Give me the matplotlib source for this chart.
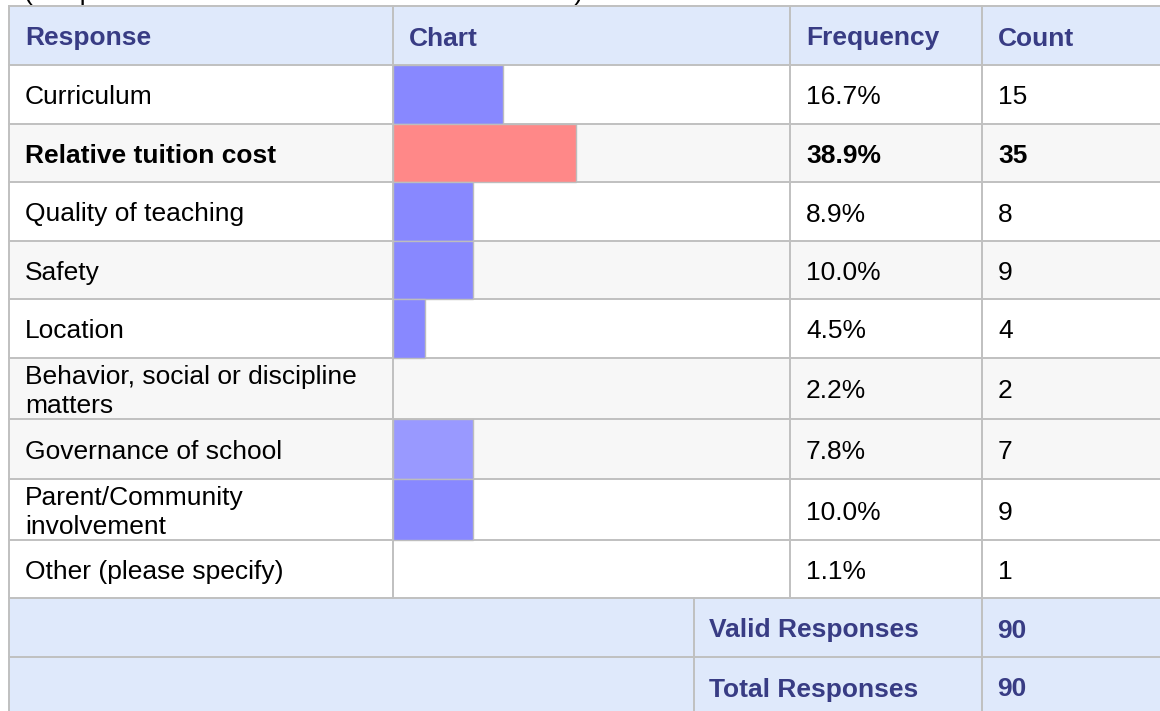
import matplotlib.pyplot as plt
from matplotlib.patches import Rectangle

# данные таблицы
responses = ["Curriculum", "Relative tuition cost", "Quality of teaching", "Safety",
             "Location", "Behavior, social or discipline\nmatters", "Governance of school",
             "Parent/Community\ninvolvement", "Other (please specify)"]
frequency = ["16.7%", "38.9%", "8.9%", "10.0%", "4.5%", "2.2%", "7.8%", "10.0%", "1.1%"]
counts = [15, 35, 8, 9, 4, 2, 7, 9, 1]
# длина полосы в столбце Chart, % ширины (как на картинке)
bar_pct = [27.7, 46.1, 20.2, 20.2, 8.1, 0, 20.2, 20.2, 0]
headers = ["Response", "Chart", "Frequency", "Count"]
footer_labels = ["Valid Responses", "Total Responses"]
footer_values = [90, 90]

plt.rcParams['font.family'] = ['Liberation Sans', 'DejaVu Sans']

W, H = 1160, 711
fig = plt.figure(figsize=(W / 100, H / 100), dpi=100)
ax = fig.add_axes([0, 0, 1, 1])
ax.set_xlim(0, W)
ax.set_ylim(H, 0)
ax.axis('off')

grid = '#c0c0c0'
head_bg = '#dfe9fb'
head_fg = '#383c84'
fs = 19
dy = 3  # сдвиг текста вниз

x_left, x_chart, x_freq, x_count, x_right = 9, 393, 790, 982, 1175
x_foot = 694
header_top, header_bot = 6, 65
row_edges = [65, 124, 182, 241, 299, 358, 419, 479, 540, 598]
foot_edges = [598, 657, 716]
shaded = [False, True, False, True, False, True, True, False, False]

# подпись сверху, обрезанная краем картинки
ax.text(24, 0, "(Respondents were allowed to select 3 choices)", fontsize=fs,
        va='baseline', ha='left', color='black')

# шапка
ax.add_patch(Rectangle((x_left, header_top), x_right - x_left, header_bot - header_top,
                       facecolor=head_bg, edgecolor='none', zorder=3))
for x, h in zip([25, 409, 806, 998], headers):
    ax.text(x, (header_top + header_bot) / 2 + dy, h, fontsize=fs, fontweight='bold',
            color=head_fg, va='center', ha='left', zorder=6)

# строки
for i in range(len(responses)):
    y0, y1 = row_edges[i], row_edges[i + 1]
    ax.add_patch(Rectangle((x_left, y0), x_right - x_left, y1 - y0,
                           facecolor='#f7f7f7' if shaded[i] else 'white', edgecolor='none'))
    yc = (y0 + y1) / 2 + dy
    bold = 'bold' if i == 1 else 'normal'
    ax.text(25, yc, responses[i], fontsize=fs, fontweight=bold, va='center', ha='left',
            linespacing=1.25)
    ax.text(806, yc, frequency[i], fontsize=fs, fontweight=bold, va='center', ha='left')
    ax.text(998, yc, str(counts[i]), fontsize=fs, fontweight=bold, va='center', ha='left')

# итоговые строки
for i in range(2):
    y0, y1 = foot_edges[i], foot_edges[i + 1]
    ax.add_patch(Rectangle((x_left, y0), x_right - x_left, y1 - y0,
                           facecolor=head_bg, edgecolor='none'))
    yc = (y0 + y0 + 59) / 2 + dy
    ax.text(709, yc, footer_labels[i], fontsize=fs, fontweight='bold', color=head_fg,
            va='center', ha='left')
    ax.text(997, yc, str(footer_values[i]), fontsize=fs, fontweight='bold', color=head_fg,
            va='center', ha='left')

# полосы в столбце Chart
cax = fig.add_axes([x_chart / W, 1 - row_edges[-1] / H,
                    (x_freq - x_chart) / W, (row_edges[-1] - row_edges[0]) / H])
cax.set_xlim(0, 100)
cax.set_ylim(row_edges[-1], row_edges[0])
cax.axis('off')
centers = [(row_edges[i] + row_edges[i + 1]) / 2 for i in range(len(responses))]
heights = [row_edges[i + 1] - row_edges[i] for i in range(len(responses))]
colors = ['#8888ff', '#ff8888', '#8888ff', '#8888ff', '#8888ff', '#8888ff',
          '#9999ff', '#8888ff', '#8888ff']
for c, h, v, col in zip(centers, heights, bar_pct, colors):
    if v > 0:
        cax.barh(c, v, height=h, left=0, color=col, edgecolor='#bdbdbd', linewidth=1)

# линии сетки
lw = 1.4
for y in [header_top, header_bot] + row_edges[1:] + foot_edges[1:2]:
    ax.plot([x_left, x_right], [y, y], color=grid, lw=lw, zorder=5)
ax.plot([x_left, x_left], [header_top, H + 5], color=grid, lw=lw, zorder=5)
for x in [x_chart, x_freq, x_count]:
    ax.plot([x, x], [header_top, row_edges[-1]], color=grid, lw=lw, zorder=5)
for x in [x_foot, x_count]:
    ax.plot([x, x], [foot_edges[0], H + 5], color=grid, lw=lw, zorder=5)

fig.savefig('out.png', dpi=100)
